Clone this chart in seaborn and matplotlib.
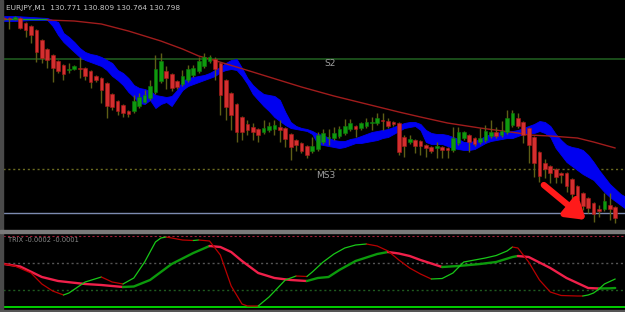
import numpy as np
import pandas as pd
import matplotlib
matplotlib.use("Agg")
import matplotlib.pyplot as plt
import seaborn as sns

# ---------------- data ----------------
title_text = "EURJPY,M1  130.771 130.809 130.764 130.798"
trix_text = "TRIX -0.0002 -0.0001"

open_ = [131.164,131.164,131.162,131.164,131.154,131.148,131.140,131.120,131.102,131.090,
         131.078,131.070,131.060,131.062,131.064,131.064,131.058,131.048,131.044,131.034,
         131.012,130.998,130.990,130.978,130.978,130.988,130.996,131.004,131.016,131.038,
         131.058,131.052,131.038,131.032,131.040,131.050,131.058,131.068,131.078,131.082,
         131.074,131.040,131.014,130.992,130.966,130.952,130.946,130.942,130.936,130.940,
         130.942,130.946,130.944,130.932,130.920,130.914,130.908,130.898,130.902,130.916,
         130.924,130.924,130.928,130.934,130.942,130.948,130.944,130.948,130.954,130.954,
         130.960,130.958,130.956,130.954,130.926,130.916,130.920,130.918,130.910,130.906,
         130.904,130.906,130.904,130.900,130.914,130.924,130.930,130.924,130.916,130.920,
         130.928,130.936,130.930,130.936,130.950,130.964,130.956,130.944,130.926,130.896,
         130.874,130.868,130.862,130.854,130.854,130.842,130.828,130.814,130.804,130.794,
         130.782,130.782,130.790,130.786]
high = [131.166,131.166,131.168,131.166,131.156,131.150,131.142,131.122,131.104,131.092,
        131.080,131.072,131.074,131.070,131.086,131.066,131.060,131.050,131.046,131.036,
        131.014,131.000,130.992,130.980,131.010,131.014,131.020,131.040,131.090,131.094,
        131.068,131.054,131.040,131.060,131.070,131.070,131.086,131.094,131.090,131.086,
        131.076,131.042,131.016,130.994,130.968,130.960,130.954,130.944,130.960,130.956,
        130.960,130.960,130.946,130.934,130.922,130.916,130.910,130.926,130.936,130.942,
        130.942,130.946,130.948,130.962,130.962,130.950,130.956,130.964,130.966,130.974,
        130.974,130.964,130.958,130.956,130.930,130.930,130.922,130.920,130.912,130.908,
        130.916,130.908,130.906,130.946,130.946,130.938,130.932,130.926,130.944,130.950,
        130.960,130.946,130.958,130.980,130.980,130.974,130.958,130.946,130.928,130.898,
        130.882,130.870,130.864,130.856,130.856,130.844,130.830,130.816,130.806,130.796,
        130.790,130.814,130.814,130.788]
low = [131.160,131.142,131.160,131.142,131.126,131.114,131.076,131.074,131.064,131.036,
       131.054,131.040,131.054,131.060,131.044,131.040,131.024,131.036,130.994,130.964,
       130.980,130.970,130.966,130.966,130.974,130.984,130.994,131.000,131.012,131.034,
       131.022,131.018,131.022,131.028,131.036,131.046,131.054,131.064,131.074,131.040,
       130.970,130.960,130.940,130.916,130.920,130.930,130.920,130.916,130.932,130.936,
       130.930,130.916,130.906,130.880,130.898,130.894,130.884,130.894,130.898,130.912,
       130.910,130.920,130.924,130.930,130.938,130.926,130.940,130.944,130.940,130.950,
       130.940,130.944,130.948,130.890,130.886,130.912,130.894,130.890,130.886,130.894,
       130.884,130.884,130.884,130.896,130.910,130.920,130.896,130.908,130.912,130.916,
       130.924,130.924,130.926,130.932,130.946,130.944,130.914,130.874,130.846,130.836,
       130.844,130.834,130.834,130.834,130.816,130.800,130.796,130.780,130.774,130.756,
       130.766,130.778,130.760,130.754]
close = [131.162,131.162,131.166,131.144,131.140,131.130,131.096,131.084,131.080,131.064,
         131.058,131.052,131.062,131.068,131.062,131.048,131.036,131.040,131.020,130.988,
         130.986,130.978,130.974,130.972,130.998,131.006,131.010,131.028,131.062,131.078,
         131.044,131.024,131.026,131.048,131.062,131.064,131.078,131.086,131.086,131.062,
         131.010,130.986,130.970,130.936,130.936,130.940,130.936,130.930,130.944,130.948,
         130.950,130.940,130.922,130.906,130.910,130.898,130.890,130.908,130.930,130.934,
         130.926,130.934,130.942,130.948,130.954,130.942,130.954,130.956,130.956,130.964,
         130.958,130.948,130.952,130.896,130.908,130.922,130.908,130.908,130.904,130.898,
         130.908,130.900,130.900,130.924,130.936,130.936,130.916,130.912,130.924,130.938,
         130.936,130.928,130.938,130.964,130.974,130.948,130.930,130.910,130.874,130.848,
         130.862,130.854,130.846,130.850,130.828,130.812,130.802,130.788,130.784,130.772,
         130.778,130.798,130.782,130.764]

cloud_idx = [0,2,5,8] + list(range(9, 116))
span_a = [131.168,131.168,131.166,131.164,131.160,131.156,131.134,131.126,131.116,131.104,
          131.096,131.092,131.090,131.086,131.080,131.074,131.060,131.054,131.044,131.030,
          131.024,131.022,131.018,131.010,131.008,131.006,131.008,131.020,131.038,131.044,
          131.046,131.048,131.050,131.054,131.060,131.066,131.074,131.080,131.082,131.064,
          131.044,131.030,131.020,131.012,131.010,131.008,131.000,130.976,130.956,130.948,
          130.944,130.942,130.938,130.932,130.930,130.924,130.920,130.918,130.918,130.922,
          130.924,130.928,130.932,130.936,130.938,130.940,130.942,130.946,130.950,130.954,
          130.956,130.956,130.952,130.940,130.934,130.932,130.932,130.930,130.926,130.922,
          130.916,130.916,130.918,130.922,130.928,130.932,130.934,130.936,130.936,130.938,
          130.940,130.944,130.948,130.952,130.958,130.956,130.948,130.932,130.920,130.910,
          130.906,130.904,130.900,130.890,130.876,130.860,130.846,130.832,130.822,130.812,
          130.806]
span_b = [131.158,131.158,131.160,131.160,131.148,131.130,131.116,131.106,131.096,131.086,
          131.080,131.076,131.072,131.068,131.060,131.048,131.040,131.030,131.016,131.006,
          130.994,130.992,131.000,130.984,130.992,130.996,130.988,131.004,131.020,131.028,
          131.032,131.036,131.040,131.044,131.048,131.056,131.060,131.062,131.060,131.048,
          131.032,131.012,131.000,130.988,130.978,130.966,130.958,130.950,130.944,130.942,
          130.940,130.938,130.932,130.912,130.910,130.908,130.906,130.904,130.906,130.910,
          130.914,130.914,130.916,130.918,130.920,130.924,130.926,130.932,130.938,130.944,
          130.946,130.948,130.940,130.916,130.912,130.912,130.912,130.908,130.904,130.902,
          130.900,130.900,130.902,130.908,130.914,130.918,130.920,130.922,130.924,130.924,
          130.928,130.932,130.934,130.934,130.938,130.934,130.926,130.904,130.890,130.876,
          130.868,130.860,130.852,130.846,130.840,130.828,130.816,130.806,130.798,130.790,
          130.782]

ma_idx = [8,13,18,23,29,33,36,38,43,49,55,61,67,73,77,82,88,95,97,101,106,109,113]
ma_val = [131.160,131.158,131.152,131.138,131.118,131.102,131.088,131.082,131.066,131.046,
          131.026,131.008,130.992,130.976,130.966,130.954,130.944,130.934,130.930,130.928,
          130.924,130.916,130.904]

tenkan_idx = [0, 8]
tenkan_val = [131.162, 131.162]

level_s2 = 131.082
level_ms3 = 130.862
level_line = 130.774

trix_fast_idx = [0,2,5,7,9,11,12,15,18,20,22,24,26,28,29,30,33,35,36,38,40,42,44,45,47,49,52,54,
                 56,57,59,61,63,65,67,69,71,73,75,77,79,81,83,85,87,89,91,93,94,95,97,99,101,103,
                 106,107,108,109,110,111,113]
trix_fast = [-0.06,-0.18,-0.60,-1.26,-1.68,-1.92,-1.80,-1.14,-0.84,-1.14,-1.26,-0.90,0.06,1.26,
             1.50,1.56,1.38,1.35,1.38,1.32,0.48,-1.38,-2.46,-2.58,-2.58,-2.04,-1.02,-0.78,-0.81,
             -0.54,0.06,0.54,0.90,1.08,1.14,1.02,0.72,0.18,-0.30,-0.66,-0.96,-0.93,-0.60,0.06,
             0.18,0.30,0.45,0.72,0.96,0.90,0.06,-1.02,-1.74,-1.95,-1.98,-1.98,-1.92,-1.80,-1.56,
             -1.26,-0.96]
trix_slow_idx = [0,3,7,10,15,18,22,24,27,31,35,38,40,42,44,47,50,53,56,58,60,62,65,69,71,73,75,
                 77,81,84,88,91,94,95,97,101,104,108,110,112,113]
trix_slow = [-0.06,-0.21,-0.84,-1.08,-1.26,-1.32,-1.44,-1.41,-1.02,-0.06,0.60,1.02,0.96,0.66,
             0.12,-0.60,-0.90,-1.02,-1.08,-0.90,-0.84,-0.42,0.12,0.54,0.66,0.57,0.42,0.18,-0.24,
             -0.18,-0.06,0.06,0.36,0.42,0.36,-0.30,-0.90,-1.50,-1.53,-1.52,-1.50]
trix_levels = [1.62, 0.0, -1.62, -2.64]

arrow_from = (99.8, 130.830)
arrow_to = (107.6, 130.760)

# ---------------- style ----------------
sns.set_theme(style="dark", rc={"axes.facecolor": "black", "figure.facecolor": "black",
                                "savefig.facecolor": "black"})
plt.rcParams["font.family"] = ["DejaVu Sans"]

fig = plt.figure(figsize=(6.25, 3.12), dpi=100)
ax = fig.add_axes([3/625, 82/312, 622/625, 228/312])
ax2 = fig.add_axes([3/625, 3/312, 622/625, 76/312])

XL = (-0.185, 114.81)

# frame lines (window borders)
fig.patches.append(plt.Rectangle((0, 0), 3/625, 1, transform=fig.transFigure,
                                 color="#4a4a4a", zorder=0))
fig.patches.append(plt.Rectangle((0, 79.5/312), 1, 2.2/312, transform=fig.transFigure,
                                 color="#7a7a7a", zorder=0))
fig.patches.append(plt.Rectangle((0, 0), 1, 2.2/312, transform=fig.transFigure,
                                 color="#555555", zorder=0))

# ---------------- main panel ----------------
n = len(open_)
x = np.arange(n)
o = np.array(open_); h = np.array(high); l = np.array(low); c = np.array(close)
up = c >= o

ax.axhline(level_s2, color="#1f5a1f", lw=1.2, zorder=0.5)
ax.axhline(level_ms3, color="#6b6b20", lw=1.0, ls=(0, (1.5, 2)), zorder=0.5)
ax.axhline(level_line, color="#7d8bb0", lw=1.0, zorder=0.5)

ax.fill_between(cloud_idx, span_a, span_b, color="#0000f0", lw=0.6, edgecolor="#0000f0", zorder=1)

sns.lineplot(x=tenkan_idx, y=tenkan_val, ax=ax, color="#18a018", lw=1.0, zorder=2)
sns.lineplot(x=ma_idx, y=ma_val, ax=ax, color="#a01c1c", lw=1.0, zorder=2, sort=False,
             estimator=None)

ax.vlines(x, l, h, color="#5e5e16", lw=1.0, zorder=3)
body_lo = np.minimum(o, c)
body_h = np.maximum(np.abs(c - o), 0.002)
ax.bar(x[up], body_h[up], bottom=body_lo[up], width=0.68, color="#0e9a0e",
       edgecolor="#0b7a0b", lw=0.4, zorder=4)
ax.bar(x[~up], body_h[~up], bottom=body_lo[~up], width=0.68, color="#d42f2f",
       edgecolor="#a81818", lw=0.4, zorder=4)

ax.annotate("", xy=arrow_to, xytext=arrow_from,
            arrowprops=dict(arrowstyle="-|>,head_length=1.1,head_width=0.7",
                            color="#ff1a1a", lw=4.5, mutation_scale=10,
                            shrinkA=0, shrinkB=0), zorder=6)

ax.text(60.2, 131.072, "S2", color="#a0a0a0", fontsize=6.5, ha="center", va="center")
ax.text(59.4, 130.850, "MS3", color="#a0a0a0", fontsize=6.5, ha="center", va="center")

ax.set_xlim(*XL)
ax.set_ylim(130.740, 131.196)
ax.set_axis_off()

fig.text(6/625, 1 - 8/312, title_text, color="#c8c8c8", fontsize=5.3, ha="left", va="center")

# ---------------- TRIX panel ----------------
ax2.axhline(trix_levels[0], color="#a0203a", lw=0.8, ls=(0, (2, 2)), zorder=0.5)
ax2.axhline(trix_levels[1], color="#555555", lw=1.0, ls=(0, (1.5, 2)), zorder=0.5)
ax2.axhline(trix_levels[2], color="#1f5a1f", lw=1.0, ls=(0, (1.5, 2)), zorder=0.5)
ax2.axhline(trix_levels[3], color="#00e000", lw=1.3, zorder=0.5)


def colored_runs(axis, xs, vs, up_col, dn_col, lw):
    xs = np.asarray(xs, float)
    vs = np.asarray(vs, float)
    rising = np.diff(vs) > 0
    start = 0
    for k in range(1, len(rising) + 1):
        if k == len(rising) or rising[k] != rising[start]:
            seg = pd.DataFrame({"x": xs[start:k + 1], "v": vs[start:k + 1]})
            sns.lineplot(data=seg, x="x", y="v", ax=axis,
                         color=up_col if rising[start] else dn_col,
                         lw=lw, sort=False, estimator=None, legend=False, zorder=2)
            start = k


colored_runs(ax2, trix_slow_idx, trix_slow, "#0c9a0c", "#f0204a", 1.7)
colored_runs(ax2, trix_fast_idx, trix_fast, "#18c818", "#b80000", 0.9)

ax2.text(0.8, 1.38, trix_text, color="#8a8a8a", fontsize=4.8, ha="left", va="center")

ax2.set_xlim(*XL)
ax2.set_ylim(-2.76, 1.80)
ax2.set_axis_off()

fig.savefig("out.png", dpi=100, facecolor="black")
